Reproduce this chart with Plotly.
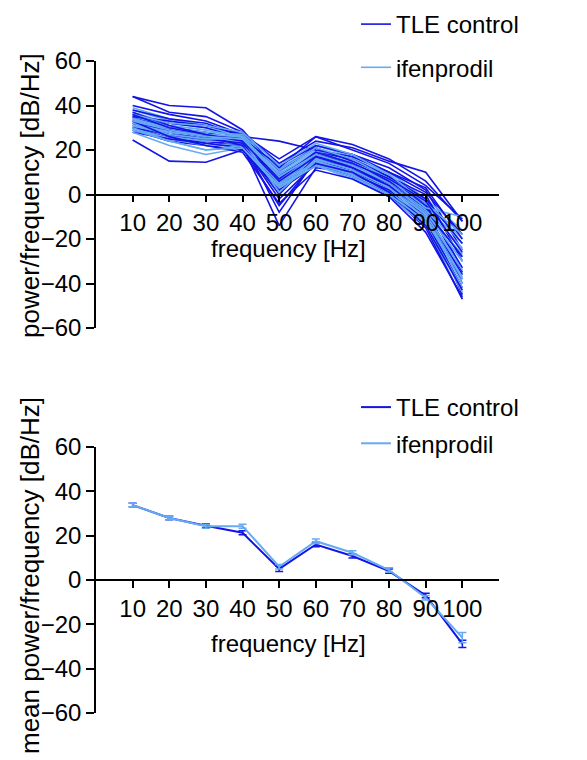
import plotly.graph_objects as go

freq = [10, 20, 30, 40, 50, 60, 70, 80, 90, 100]

tle_control_lines = [
    [44, 40, 39, 29, 10, 22, 18, 12, 2, -25],
    [44, 37, 35, 28, 14, 24, 21, 15, 10, -12],
    [40, 36, 33, 27, 16, 26, 22.5, 16, 6, -12],
    [38, 34, 32, 26, 24, 20, 17, 10, 3, -20],
    [36, 32, 30, 25, 12, 26, 20, 14, 4, -11],
    [35, 30, 28, 24, 8, 19, 16, 8, 0, -30],
    [34, 29, 26, 23, 3, 18, 14, 6, -4, -35],
    [33, 28, 25, 24, -8, 16, 12, 5, -6, -40],
    [32, 27, 24, 22, -14, 12, 10, 3, -8, -45],
    [31, 26, 23, 21, -5, 15, 11, 4, -10, -38],
    [30, 26, 24, 22, 0, 17, 13, 6, -5, -33],
    [29, 24, 22, 20, 5, 14, 9, 2, -12, -42],
    [28, 25, 23, 21, 9, 18, 12, 4, -7, -28],
    [24.5, 15, 14.5, 20, 2, 13, 8, 0, -15, -47],
    [35, 33, 31, 27, 11, 21, 15, 8, -2, -22],
    [37, 31, 27, 25, 13, 22, 18, 10, 1, -18],
    [32, 29, 26, 22, -2, 14, 10, 1, -14, -43],
    [30, 27, 25, 23, 6, 17, 12, 5, -8, -36],
    [33, 26, 22, 19, -4, 11, 7, -1, -17, -46],
    [36, 30, 27, 24, 7, 19, 14, 7, -3, -26],
]

ifenprodil_lines = [
    [39, 34, 31, 27, 14, 22, 17, 10, -2, -16],
    [38, 33, 30, 26, 12, 21, 16, 9, -4, -20],
    [37, 32, 30, 27, 10, 20, 15, 8, -5, -22],
    [36, 31, 29, 26, 9, 19, 14, 6, -6, -25],
    [35, 30, 28, 25, 8, 18, 14, 5, -7, -28],
    [35, 31, 29, 26, 6, 18, 13, 5, -8, -30],
    [34, 29, 27, 25, 5, 17, 12, 4, -9, -33],
    [33, 28, 26, 25, 4, 16, 11, 3, -10, -36],
    [33, 29, 27, 26, 7, 17, 12, 3, -8, -27],
    [32, 27, 25, 24, 3, 15, 10, 2, -11, -40],
    [31, 26, 24, 24, 2, 15, 10, 1, -12, -44],
    [30, 25, 22, 23, 5, 14, 9, 0, -13, -47],
    [29, 24, 20, 22, 6, 14, 8, 1, -10, -38],
    [28, 22, 18, 21, 4, 13, 7, -1, -14, -42],
    [34, 30, 28, 27, 11, 21, 16, 7, -6, -10],
    [36, 32, 31, 28, 13, 23, 18, 9, -4, -18],
    [32, 28, 27, 26, 9, 19, 14, 5, -7, -24],
    [31, 27, 25, 25, 1, 16, 11, 3, -9, -34],
    [30, 24, 20, 21, 3, 13, 8, 0, -12, -37],
    [33, 29, 26, 25, 8, 18, 13, 5, -8, -30],
]

tle_mean = [33.8, 28.0, 24.5, 21.3, 5.0, 16.0, 10.8, 4.0, -7.0, -28.8]
tle_sem = [0.8, 0.8, 0.9, 0.9, 1.2, 1.0, 0.9, 1.0, 1.0, 1.6]
ifen_mean = [33.8, 28.0, 24.3, 24.3, 6.0, 17.5, 12.3, 4.5, -8.0, -26.0]
ifen_sem = [0.8, 0.8, 0.9, 0.9, 1.0, 1.0, 0.9, 1.0, 1.0, 2.3]

names = ["TLE control", "ifenprodil"]
y_titles = ["power/frequency [dB/Hz]", "mean power/frequency [dB/Hz]"]
x_title = "frequency [Hz]"
DARK = "#1414e6"
LIGHT = "#66aaf2"
FONT = "Liberation Sans, Arial, sans-serif"
FS = 24
FS_YT = 26

fig = go.Figure()

# top panel: individual recordings, interleaved
n = max(len(tle_control_lines), len(ifenprodil_lines))
for i in range(n):
    if i < len(tle_control_lines):
        fig.add_trace(go.Scatter(
            x=freq, y=tle_control_lines[i], mode="lines",
            line=dict(color=DARK, width=1.6),
            name=names[0], legendgroup="tle", showlegend=(i == 0),
            legend="legend", xaxis="x", yaxis="y"))
    if i < len(ifenprodil_lines):
        fig.add_trace(go.Scatter(
            x=freq, y=ifenprodil_lines[i], mode="lines",
            line=dict(color=LIGHT, width=1.6),
            name=names[1], legendgroup="ifen", showlegend=(i == 0),
            legend="legend", xaxis="x", yaxis="y"))

# bottom panel: means with error bars
fig.add_trace(go.Scatter(
    x=freq, y=tle_mean, mode="lines",
    line=dict(color=DARK, width=2),
    error_y=dict(type="data", array=tle_sem, color=DARK, thickness=1.5, width=4),
    name=names[0], legendgroup="tle2", legend="legend2", xaxis="x2", yaxis="y2"))
fig.add_trace(go.Scatter(
    x=freq, y=ifen_mean, mode="lines",
    line=dict(color=LIGHT, width=2),
    error_y=dict(type="data", array=ifen_sem, color=LIGHT, thickness=1.5, width=4),
    name=names[1], legendgroup="ifen2", legend="legend2", xaxis="x2", yaxis="y2"))

W, H = 587, 760
xdom = [96 / W, 499 / W]
top_dom = [1 - 328 / H, 1 - 61 / H]
bot_dom = [1 - 713 / H, 1 - 447 / H]

def xaxis_cfg(pos):
    return dict(
        domain=xdom, range=[0, 110], anchor="free", position=pos,
        tickvals=freq, ticktext=[str(f) for f in freq],
        showline=True, linecolor="black", linewidth=1.5,
        ticks="outside", ticklen=7, tickwidth=1.5, tickcolor="black",
        showgrid=False, zeroline=False,
        tickfont=dict(family=FONT, size=FS, color="black"),
        automargin=False,
    )

def yaxis_cfg(dom):
    return dict(
        domain=dom, range=[-60, 60], tickvals=[-60, -40, -20, 0, 20, 40, 60],
        showline=True, linecolor="black", linewidth=1.5,
        ticks="outside", ticklen=8, tickwidth=1.5, tickcolor="black",
        showgrid=False, zeroline=False,
        tickfont=dict(family=FONT, size=FS, color="black"),
        automargin=False,
    )

def title_ann(text, xpx, ypx, angle, size):
    return dict(text=text, textangle=angle, x=xpx / W, y=1 - ypx / H,
                xref="paper", yref="paper", xanchor="center", yanchor="middle",
                showarrow=False, font=dict(family=FONT, size=size, color="black"))

fig.update_layout(
    width=W, height=H,
    margin=dict(l=0, r=0, t=0, b=0),
    paper_bgcolor="white", plot_bgcolor="white",
    font=dict(family=FONT, size=FS, color="black"),
    xaxis=xaxis_cfg((top_dom[0] + top_dom[1]) / 2),
    yaxis=yaxis_cfg(top_dom),
    xaxis2=xaxis_cfg((bot_dom[0] + bot_dom[1]) / 2),
    yaxis2=yaxis_cfg(bot_dom),
    legend=dict(x=356 / W, y=1 - 2 / H, xanchor="left", yanchor="top",
                font=dict(family=FONT, size=FS, color="black"),
                bgcolor="rgba(0,0,0,0)", tracegroupgap=9),
    legend2=dict(x=356 / W, y=1 - 385 / H, xanchor="left", yanchor="top",
                 font=dict(family=FONT, size=FS, color="black"),
                 bgcolor="rgba(0,0,0,0)", tracegroupgap=2),
    showlegend=True,
    annotations=[
        title_ann(y_titles[0], 30, 196, -90, FS_YT),
        title_ann(y_titles[1], 30, 576, -90, FS_YT),
        title_ann(x_title, 288, 248, 0, FS),
        title_ann(x_title, 288, 643, 0, FS),
    ],
)

fig.write_html("out.html")
